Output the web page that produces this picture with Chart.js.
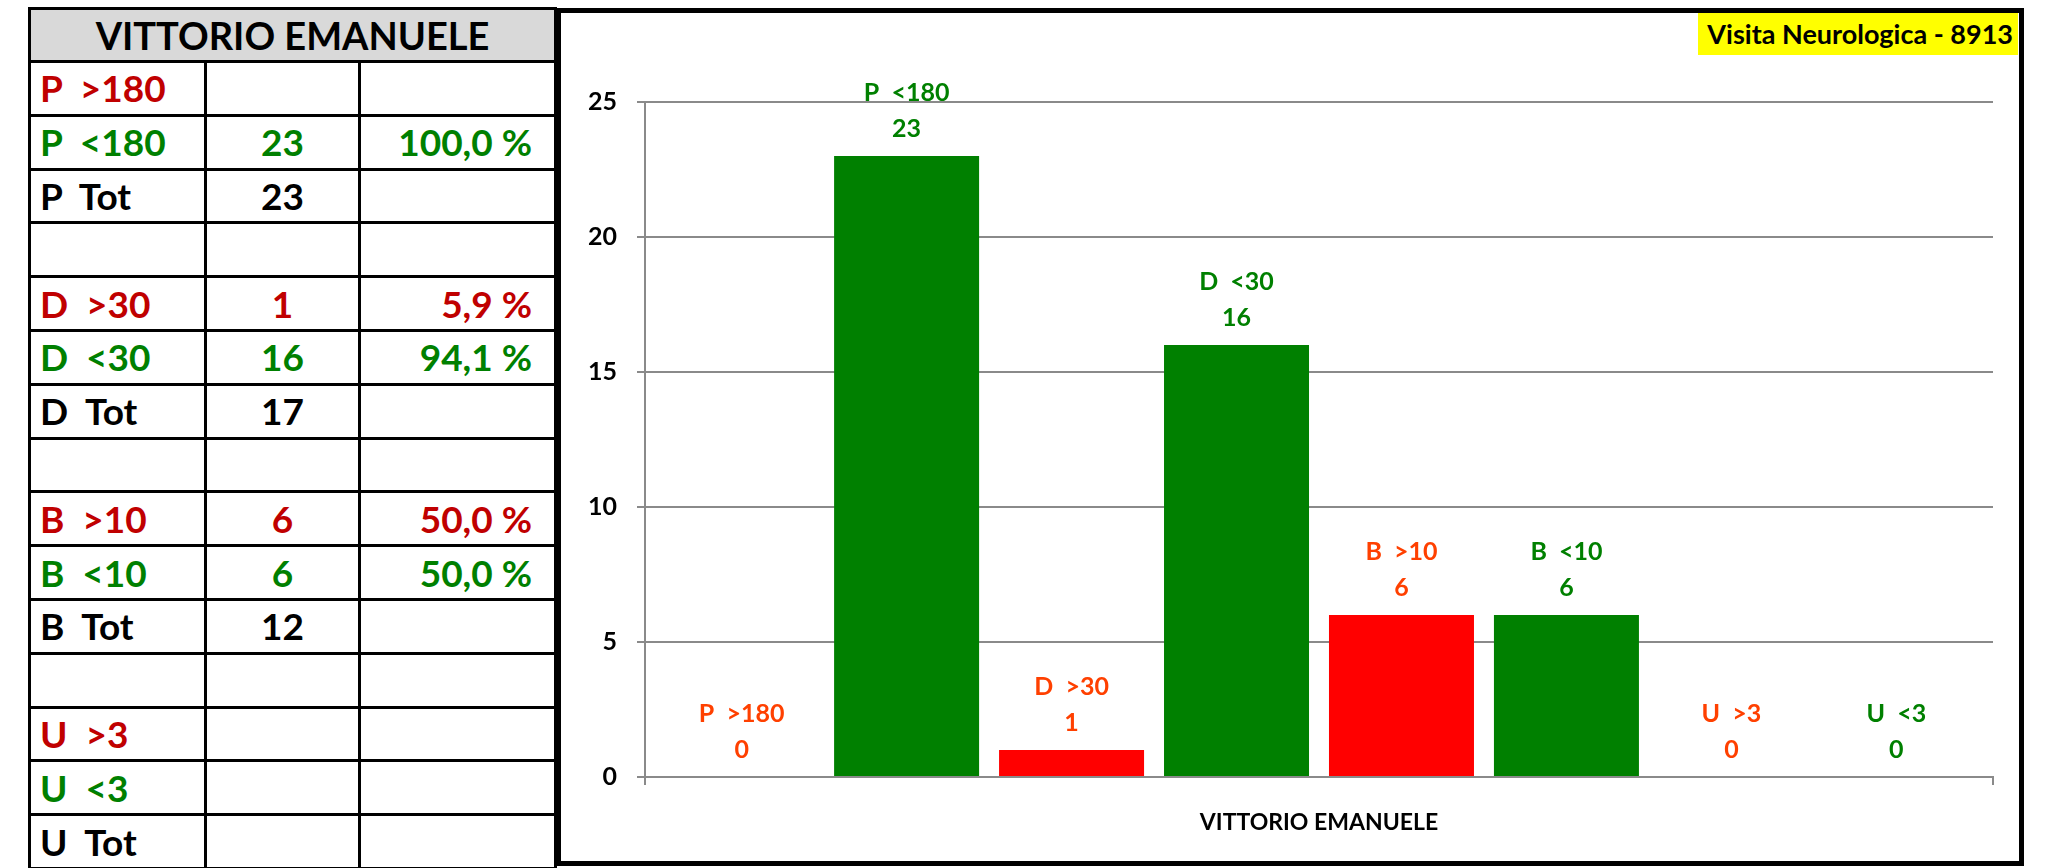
<!DOCTYPE html>
<html lang="it">

<head>
    <meta charset="UTF-8">
    <meta name="viewport" content="width=device-width, initial-scale=1.0">
    <title>Visita Neurologica - 8913</title>
    <script src="https://cdn.jsdelivr.net/npm/chart.js"></script>
    <style>
        body {
            margin: 0;
            width: 2048px;
            height: 868px;
            background: #fff;
            overflow: hidden;
            font-family: Lato, 'Noto Sans', sans-serif;
        }

        .tabella {
            position: absolute;
            left: 28px;
            top: 7px;
            width: 526px;
            border-collapse: collapse;
            table-layout: fixed;
        }

        .tabella th,
        .tabella td {
            border: 3px solid #000;
            padding: 0;
            font-weight: bold;
            font-size: 37px;
            line-height: 44px;
            white-space: pre;
            overflow: hidden;
        }

        .tabella th {
            height: 50px;
            background: #d9d9d9;
            text-align: center;
            font-size: 38px;
        }

        .tabella tr.riga {
            height: 53.8px;
        }

        .tabella td.nome { padding-left: 9px; text-align: left; }
        .tabella td.valore { text-align: center; }
        .tabella td.perc { padding-right: 22px; text-align: right; }

        .rosso { color: #c00000; }
        .verde { color: #008000; }
        .nero { color: #000; }

        .riquadro {
            position: absolute;
            left: 556px;
            top: 8px;
            width: 1458px;
            height: 848px;
            border: 5px solid #000;
        }

        .titolo {
            position: absolute;
            top: 0;
            right: 1px;
            height: 42px;
            line-height: 42px;
            padding: 0 5px 0 9px;
            background: #ffff00;
            color: #000;
            font-weight: bold;
            font-size: 27px;
        }

        canvas {
            display: block;
        }
    </style>
</head>

<body>

    <table class="tabella">
        <colgroup>
            <col style="width:176px">
            <col style="width:154px">
            <col style="width:196px">
        </colgroup>
        <thead>
            <tr><th colspan="3" id="intestazione"></th></tr>
        </thead>
        <tbody id="corpoTabella"></tbody>
    </table>

    <div class="riquadro">
        <div class="titolo" id="titolo"></div>
        <canvas id="grafico" width="1458" height="848"></canvas>
    </div>

    <script>
        // dati
        const titolo = 'Visita Neurologica - 8913';
        const categorie = ['VITTORIO EMANUELE'];
        const serieNomi = ['P  >180', 'P  <180', 'D  >30', 'D  <30', 'B  >10', 'B  <10', 'U  >3', 'U  <3'];
        const serieValori = [0, 23, 1, 16, 6, 6, 0, 0];
        const tickY = [0, 5, 10, 15, 20, 25];

        // tabella a sinistra
        const tabNomi = ['P  >180', 'P  <180', 'P  Tot', '', 'D  >30', 'D  <30', 'D  Tot', '',
            'B  >10', 'B  <10', 'B  Tot', '', 'U  >3', 'U  <3', 'U  Tot'];
        const tabValori = ['', '23', '23', '', '1', '16', '17', '', '6', '6', '12', '', '', '', ''];
        const tabPerc = ['', '100,0 %', '', '', '5,9 %', '94,1 %', '', '', '50,0 %', '50,0 %', '', '', '', '', ''];
        const tabTipo = ['rosso', 'verde', 'nero', 'nero', 'rosso', 'verde', 'nero', 'nero',
            'rosso', 'verde', 'nero', 'nero', 'rosso', 'verde', 'nero'];

        // stili
        const ROSSO = '#ff0000';
        const VERDE = '#008000';
        const ARANCIO = '#ff4000';
        const GRIGIO = '#8a8a8a';
        const coloriBarre = [ROSSO, VERDE, ROSSO, VERDE, ROSSO, VERDE, ROSSO, VERDE];
        const coloriEtichette = [ARANCIO, VERDE, ARANCIO, VERDE, ARANCIO, VERDE, ARANCIO, VERDE];
        const FONT = 'Lato';

        document.getElementById('titolo').textContent = titolo;
        document.getElementById('intestazione').textContent = categorie[0];

        var corpo = document.getElementById('corpoTabella');
        for (var i = 0; i < tabNomi.length; i++) {
            var tr = document.createElement('tr');
            tr.className = 'riga ' + tabTipo[i];
            tr.innerHTML = `<td class="nome">${tabNomi[i]}</td><td class="valore">${tabValori[i]}</td><td class="perc">${tabPerc[i]}</td>`;
            corpo.appendChild(tr);
        }

        // etichette sopra le barre (nome + valore)
        const etichetteBarre = {
            id: 'etichetteBarre',
            afterDatasetsDraw(chart) {
                const ctx = chart.ctx;
                ctx.save();
                ctx.font = `bold 25px ${FONT}`;
                ctx.textAlign = 'center';
                ctx.textBaseline = 'middle';
                chart.data.datasets.forEach((ds, i) => {
                    const barra = chart.getDatasetMeta(i).data[0];
                    ctx.fillStyle = coloriEtichette[i];
                    ctx.fillText(String(ds.data[0]), barra.x, barra.y - 27);
                    ctx.fillText(ds.label, barra.x, barra.y - 63);
                });
                ctx.restore();
            }
        };

        const data = {
            labels: categorie,
            datasets: serieNomi.map((nome, i) => ({
                label: nome,
                data: [serieValori[i]],
                backgroundColor: coloriBarre[i],
                borderWidth: 0,
                categoryPercentage: 0.979,
                barPercentage: 0.879
            }))
        };

        const config = {
            type: 'bar',
            data: data,
            options: {
                responsive: false,
                animation: false,
                layout: {
                    padding: { top: 89, right: 26, left: 0, bottom: 0 }
                },
                plugins: {
                    legend: { display: false },
                    tooltip: { enabled: false },
                    title: { display: false }
                },
                scales: {
                    y: {
                        min: tickY[0],
                        max: tickY[tickY.length - 1],
                        afterBuildTicks(scale) {
                            scale.ticks = tickY.map(v => ({ value: v }));
                        },
                        afterFit(scale) {
                            scale.width = 84;
                        },
                        ticks: {
                            color: '#000',
                            padding: 20,
                            font: { family: FONT, weight: 'bold', size: 25 }
                        },
                        grid: {
                            color: GRIGIO,
                            lineWidth: 2,
                            tickLength: 8
                        },
                        border: { color: GRIGIO, width: 2 }
                    },
                    x: {
                        afterFit(scale) {
                            scale.height = 84;
                        },
                        ticks: {
                            color: '#000',
                            padding: 24,
                            font: { family: FONT, weight: 'bold', size: 23 }
                        },
                        grid: {
                            drawOnChartArea: false,
                            color: GRIGIO,
                            lineWidth: 2,
                            tickLength: 8
                        },
                        border: { color: GRIGIO, width: 2 }
                    }
                }
            },
            plugins: [etichetteBarre]
        };

        const grafico = new Chart(
            document.getElementById('grafico'),
            config
        );
    </script>

</body>

</html>
